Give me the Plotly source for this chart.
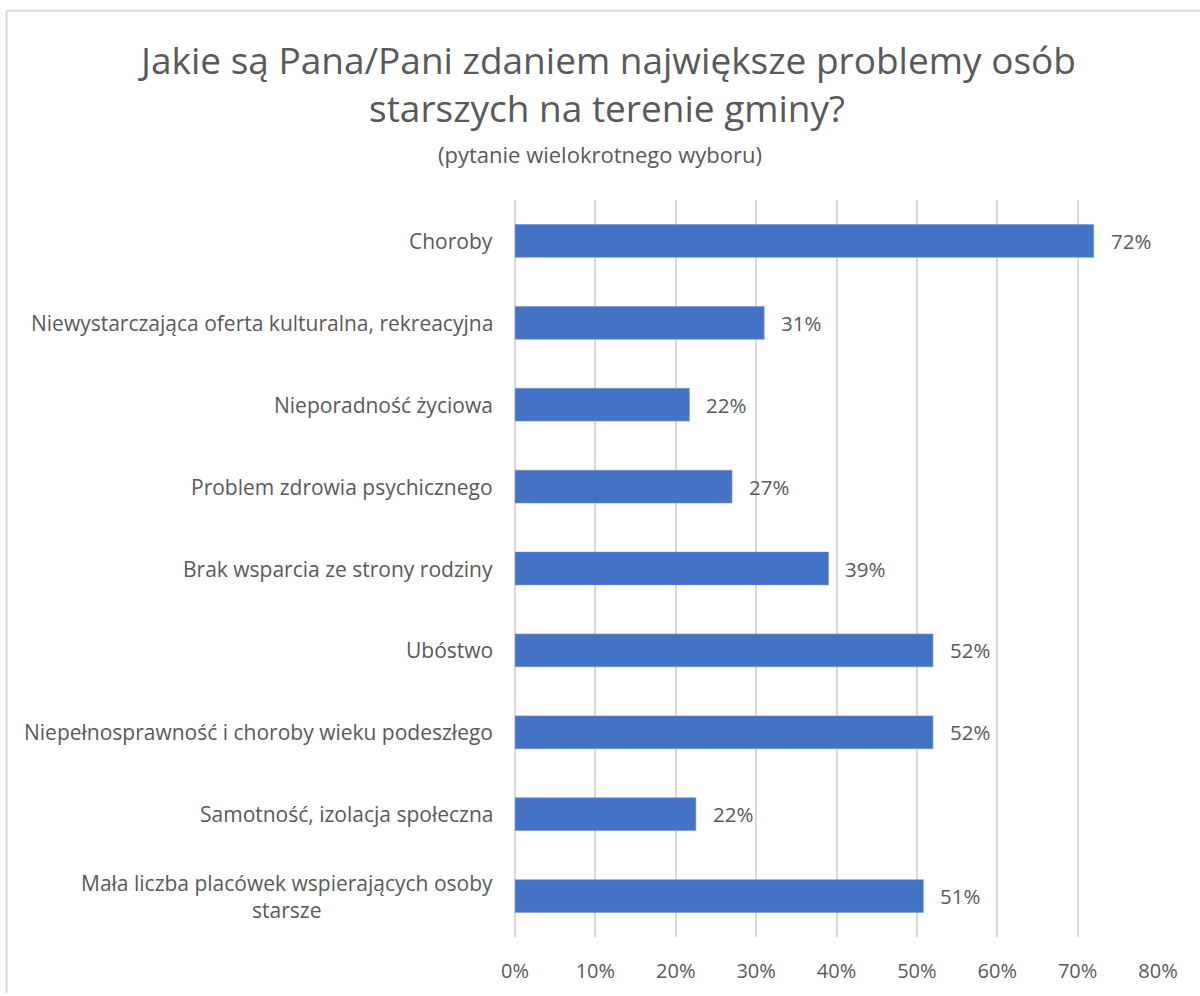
import plotly.graph_objects as go

categories = [
    "Choroby",
    "Niewystarczająca oferta kulturalna, rekreacyjna",
    "Nieporadność życiowa",
    "Problem zdrowia psychicznego",
    "Brak wsparcia ze strony rodziny",
    "Ubóstwo",
    "Niepełnosprawność i choroby wieku podeszłego",
    "Samotność, izolacja społeczna",
    "Mała liczba placówek wspierających osoby<br>starsze",
]
values = [0.72, 0.31, 0.217, 0.27, 0.39, 0.52, 0.52, 0.225, 0.508]
value_labels = ["72%", "31%", "22%", "27%", "39%", "52%", "52%", "22%", "51%"]
x_ticks = [0, 0.1, 0.2, 0.3, 0.4, 0.5, 0.6, 0.7, 0.8]
x_tick_labels = ["0%", "10%", "20%", "30%", "40%", "50%", "60%", "70%", "80%"]

W, H = 1200, 996
L, R, T, B = 515, 42, 200, 56
PW, PH = W - L - R, H - T - B

def px(x):
    return (x - L) / PW

def py(y):
    return (H - B - y) / PH

FONT = "Open Sans"
TXT = "#595959"
GRID = "#d9d9d9"

fig = go.Figure()
fig.add_trace(go.Bar(
    x=values, y=categories, orientation="h", width=0.4,
    marker=dict(color="#4472C4", line=dict(color="#6f93d6", width=0.6)),
    hoverinfo="skip",
))

annotations = []
for c, v, lab in zip(categories, values, value_labels):
    annotations.append(dict(x=v, y=c, xref="x", yref="y", text=lab, showarrow=False,
                            xanchor="left", yanchor="middle", xshift=15,
                            font=dict(family=FONT, size=20.5, color=TXT)))
    annotations.append(dict(x=0, y=c, xref="x", yref="y", text=c, showarrow=False,
                            xanchor="right", yanchor="middle", xshift=-20, align="center",
                            font=dict(family=FONT, size=21, color=TXT)))

annotations += [
    dict(x=px(607), y=py(59), xref="paper", yref="paper", showarrow=False,
         text="Jakie są Pana/Pani zdaniem największe problemy osób",
         xanchor="center", yanchor="middle", font=dict(family=FONT, size=37, color=TXT)),
    dict(x=px(607), y=py(107), xref="paper", yref="paper", showarrow=False,
         text="starszych na terenie gminy?",
         xanchor="center", yanchor="middle", font=dict(family=FONT, size=37, color=TXT)),
    dict(x=px(600), y=py(154), xref="paper", yref="paper", showarrow=False,
         text="(pytanie wielokrotnego wyboru)",
         xanchor="center", yanchor="middle", font=dict(family=FONT, size=22, color=TXT)),
]

shapes = [
    dict(type="line", xref="paper", yref="paper", x0=px(6.5), x1=px(1200), y0=py(10), y1=py(10),
         line=dict(color=GRID, width=2)),
    dict(type="line", xref="paper", yref="paper", x0=px(6.5), x1=px(6.5), y0=py(10), y1=py(996),
         line=dict(color=GRID, width=2)),
]

fig.update_layout(
    width=W, height=H,
    margin=dict(l=L, r=R, t=T, b=B, pad=0),
    paper_bgcolor="white", plot_bgcolor="white",
    showlegend=False,
    annotations=annotations,
    shapes=shapes,
    font=dict(family=FONT, color=TXT),
    xaxis=dict(range=[0, 0.8], tickvals=x_ticks, ticktext=x_tick_labels,
               showgrid=True, gridcolor=GRID, gridwidth=1.5,
               zeroline=True, zerolinecolor=GRID, zerolinewidth=1.5,
               showline=False, ticks="", ticklabelstandoff=20,
               tickfont=dict(family=FONT, size=20, color=TXT), fixedrange=True),
    yaxis=dict(categoryorder="array", categoryarray=categories, autorange="reversed",
               showticklabels=False, showgrid=False, zeroline=False, showline=False,
               ticks="", fixedrange=True),
)

fig.write_html("out.html", config={"displayModeBar": False},
               post_script="document.body.style.margin='0';document.body.style.overflow='hidden';")
